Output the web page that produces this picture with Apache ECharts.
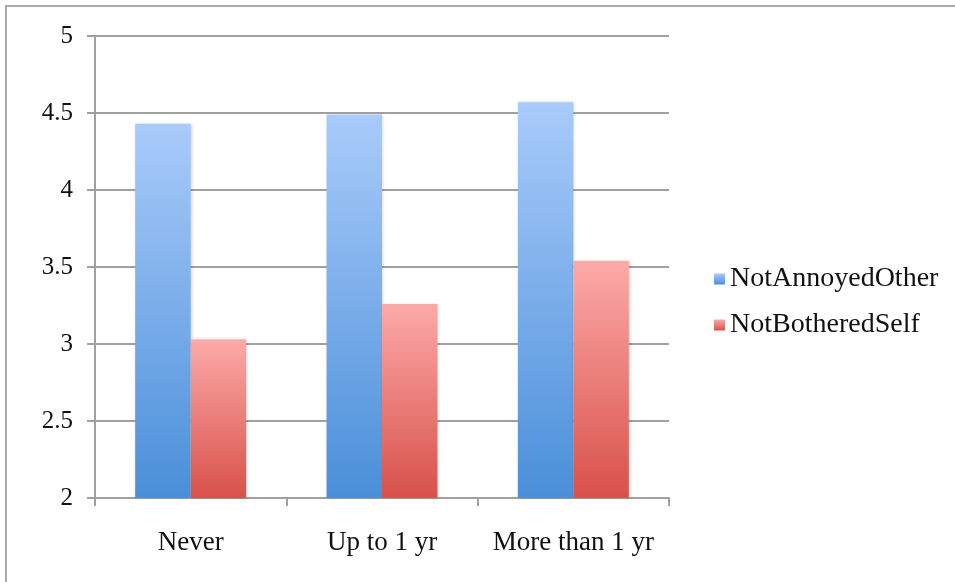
<!DOCTYPE html>
<html>
<head>
<meta charset="utf-8">
<script src="https://cdn.jsdelivr.net/npm/echarts@6/dist/echarts.min.js"></script>
<style>
  html, body { margin: 0; padding: 0; background: #fff; }
  #chart { width: 955px; height: 582px; }
</style>
</head>
<body>
<div id="chart"></div>
<script>
// Categories and series values
const categories = ['Never', 'Up to 1 yr', 'More than 1 yr'];
const notAnnoyedOther = [4.43, 4.49, 4.57];
const notBotheredSelf = [3.03, 3.26, 3.54];
const seriesNames = ['NotAnnoyedOther', 'NotBotheredSelf'];
const yMin = 2, yMax = 5, yStep = 0.5;

const FONT = '"Liberation Serif", "DejaVu Serif", serif';

function vGrad(top, bottom) {
  return new echarts.graphic.LinearGradient(0, 0, 0, 1, [
    { offset: 0, color: top },
    { offset: 1, color: bottom }
  ]);
}

const blueFill = vGrad('#a9cbfa', '#4a8fd9');
const redFill = vGrad('#fcaaa8', '#d8514a');

const chart = echarts.init(document.getElementById('chart'), null, { renderer: 'canvas' });

chart.setOption({
  animation: false,
  backgroundColor: '#fff',
  graphic: [{
    type: 'rect',
    shape: { x: 6, y: 6, width: 1000, height: 640 },
    style: { fill: 'none', stroke: '#aaaaaa', lineWidth: 2 },
    silent: true,
    z: 0
  }],
  grid: { left: 95, right: 286, top: 36, bottom: 84, containLabel: false },
  legend: {
    orient: 'vertical',
    left: 709,
    top: 260,
    itemWidth: 11,
    itemHeight: 11,
    itemGap: 18,
    icon: 'rect',
    textStyle: { fontFamily: FONT, fontSize: 28, color: '#111', padding: [0, 0, 0, 0] },
    data: seriesNames
  },
  xAxis: {
    type: 'category',
    data: categories,
    axisLine: { show: true, lineStyle: { color: '#a0a0a0', width: 2 } },
    axisTick: { show: true, length: 8, alignWithLabel: false, lineStyle: { color: '#a0a0a0', width: 2 } },
    axisLabel: { interval: 0, fontFamily: FONT, fontSize: 27, color: '#111', margin: 31 }
  },
  yAxis: {
    type: 'value',
    min: yMin,
    max: yMax,
    interval: yStep,
    axisLine: { show: true, lineStyle: { color: '#a0a0a0', width: 2 } },
    axisTick: { show: true, length: 8, lineStyle: { color: '#a0a0a0', width: 2 } },
    splitLine: { show: true, lineStyle: { color: '#a0a0a0', width: 2 } },
    axisLabel: { fontFamily: FONT, fontSize: 25, color: '#111', margin: 22 }
  },
  series: [
    {
      name: seriesNames[0],
      type: 'bar',
      data: notAnnoyedOther,
      barGap: '0%',
      barCategoryGap: '42%',
      itemStyle: { color: blueFill, shadowColor: 'rgba(0,0,0,0.18)', shadowBlur: 3, shadowOffsetX: 1 },
      z: 3
    },
    {
      name: seriesNames[1],
      type: 'bar',
      data: notBotheredSelf,
      itemStyle: { color: redFill, shadowColor: 'rgba(0,0,0,0.18)', shadowBlur: 3, shadowOffsetX: 1 },
      z: 3
    }
  ]
});
</script>
</body>
</html>
